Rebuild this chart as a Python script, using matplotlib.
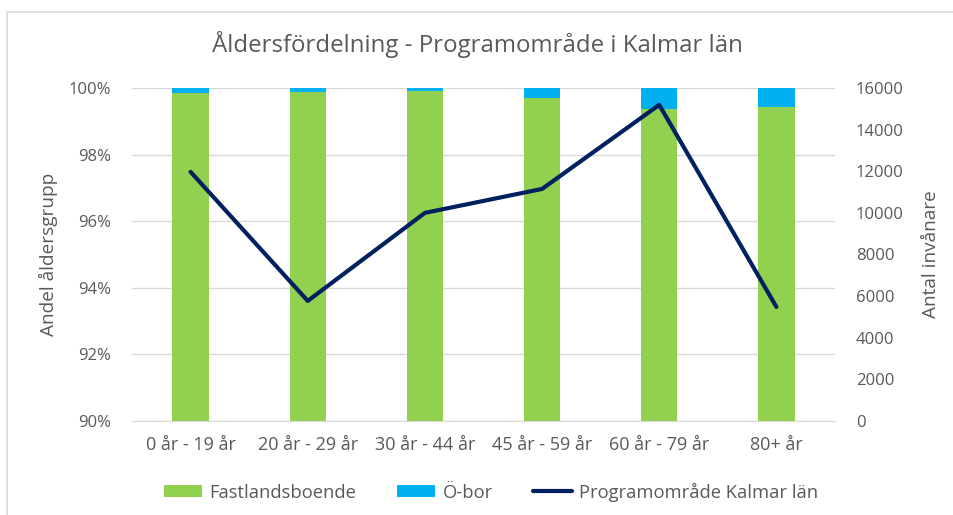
import matplotlib

matplotlib.use("Agg")
import matplotlib.pyplot as plt
from matplotlib.patches import Rectangle
from matplotlib.ticker import FuncFormatter
import numpy as np

plt.rcParams["font.family"] = ["Open Sans", "DejaVu Sans"]

# ── data ──────────────────────────────────────────────────────────────────────
categories = ["0 år - 19 år", "20 år - 29 år", "30 år - 44 år",
              "45 år - 59 år", "60 år - 79 år", "80+ år"]
fastland = [99.86, 99.89, 99.92, 99.71, 99.37, 99.42]   # % share
oboer = [100 - v for v in fastland]                      # % share
invanare = [11970, 5770, 10000, 11150, 15190, 5480]     # count

GREEN = "#92D050"
BLUE = "#00B0F0"
NAVY = "#002060"
TXT = "#595959"
GRID = "#D9D9D9"

W, H = 954, 515
fig = plt.figure(figsize=(W / 100, H / 100), dpi=100)
ax = fig.add_axes([132 / W, 1 - 421 / H, (835 - 132) / W, (421 - 88) / H])
ax2 = ax.twinx()

x = np.arange(len(categories))
ax.bar(x, fastland, 0.31, color=GREEN, label="Fastlandsboende", zorder=2)
ax.bar(x, oboer, 0.31, bottom=fastland, color=BLUE, label="Ö-bor", zorder=2)
ax.set_ylim(90, 100)
ax.set_xlim(-0.5, len(categories) - 0.5)
ax.set_yticks(np.arange(90, 100.1, 2))
ax.yaxis.set_major_formatter(FuncFormatter(lambda v, _: f"{v:.0f}%"))
ax.grid(axis="y", color=GRID, lw=1, zorder=0)
ax.set_axisbelow(True)

ax2.plot(x, invanare, color=NAVY, lw=3, label="Programområde Kalmar län",
         solid_capstyle="round", zorder=3)
ax2.set_ylim(0, 16000)
ax2.set_yticks(np.arange(0, 16001, 2000))

for a in (ax, ax2):
    for s in a.spines.values():
        s.set_visible(False)
    a.tick_params(length=0, labelsize=12, colors=TXT)
ax.spines["bottom"].set_visible(True)
ax.spines["bottom"].set_color(GRID)
ax.set_xticks(x)
ax.set_xticklabels(categories)
ax.tick_params(axis="x", pad=11, labelsize=13)
ax.tick_params(axis="y", pad=15)
ax2.tick_params(axis="y", pad=15)

ax.set_ylabel("Andel åldersgrupp", fontsize=13.7, color=TXT, labelpad=8)
ax2.set_ylabel("Antal invånare", fontsize=13.7, color=TXT, labelpad=13)

fig.text(0.5, 1 - 45 / H, "Åldersfördelning - Programområde i Kalmar län",
         ha="center", va="center", fontsize=17.3, color=TXT)

h1, l1 = ax.get_legend_handles_labels()
h2, l2 = ax2.get_legend_handles_labels()
fig.legend(h1 + h2, l1 + l2, loc="center", bbox_to_anchor=(491 / W, 1 - 492 / H),
           ncol=3, frameon=False, fontsize=13.2, labelcolor=TXT,
           handlelength=2.1, handleheight=0.6, columnspacing=2.2, handletextpad=0.4)

fig.patches.append(Rectangle((7 / W, -0.1), 1.1, 1 - 12 / H + 0.1, transform=fig.transFigure,
                             fill=False, ec=GRID, lw=1.2))

fig.savefig("out.png", dpi=100)
